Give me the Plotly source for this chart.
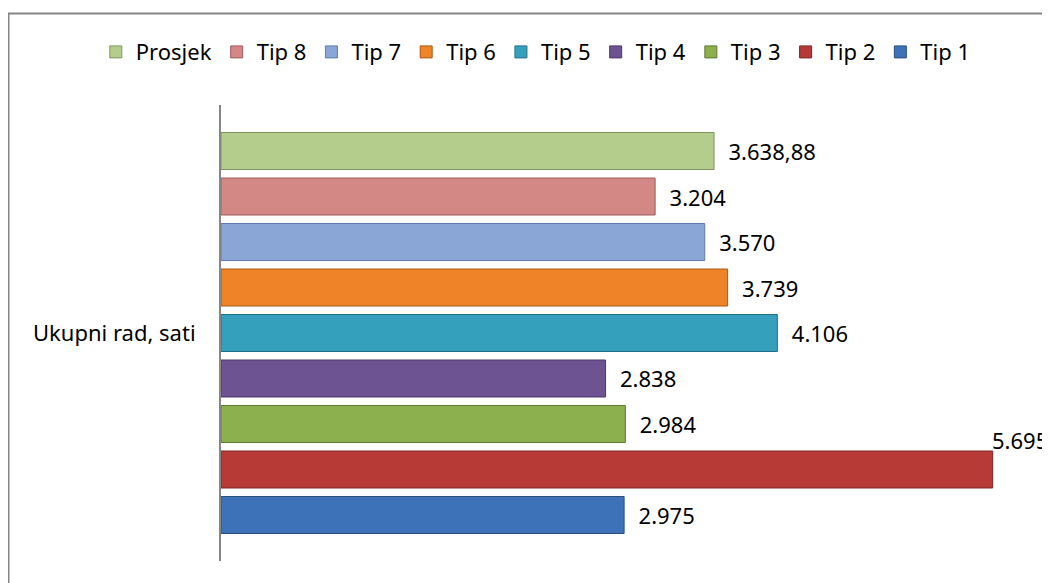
import plotly.graph_objects as go

category = ["Ukupni rad, sati"]
series_names = ["Tip 1", "Tip 2", "Tip 3", "Tip 4", "Tip 5", "Tip 6", "Tip 7", "Tip 8", "Prosjek"]
series_values = [2975, 5695, 2984, 2838, 4106, 3739, 3570, 3204, 3638.88]
series_colors = ["#3E72B8", "#B83A37", "#8DB04E", "#6E5392", "#35A0BC", "#EE8427", "#8AA6D6", "#D48886", "#B4CC8C"]
line_colors = ["#2A4F80", "#7E2624", "#5E7A33", "#4B3866", "#23708A", "#A85A18", "#5F7BA8", "#9A5E5C", "#7F9660"]
# label of the bar that runs to the edge is lifted above its bar, as in the source
lifted_label = "Tip 2"

def fmt(v):
    if float(v).is_integer():
        return f"{int(v):,}".replace(",", ".")
    return f"{v:,.2f}".replace(",", "X").replace(".", ",").replace("X", ".")

FONT = "Noto Sans"
FS = 22
fig = go.Figure()
annotations = []
for name, val, col, lc in zip(series_names, series_values, series_colors, line_colors):
    lifted = name == lifted_label
    fig.add_trace(go.Bar(
        name=name, y=category, x=[val], orientation="h",
        marker=dict(color=col, line=dict(color=lc, width=1)),
        text=[fmt(val)], texttemplate="  %{text}",
        textposition="none" if lifted else "outside",
        textfont=dict(family=FONT, size=FS, color="#000000"),
        cliponaxis=False,
    ))
    if lifted:
        annotations.append(dict(x=val, y=category[0], xref="x", yref="y", text=fmt(val),
                                showarrow=False, xanchor="left", yanchor="bottom",
                                xshift=-3, yshift=-124,
                                font=dict(family=FONT, size=FS, color="#000000")))

fig.update_layout(
    width=1042, height=575,
    margin=dict(l=213, r=16, t=97, b=22),
    paper_bgcolor="white", plot_bgcolor="white",
    barmode="group", bargap=0.102, bargroupgap=0.187,
    font=dict(family=FONT, size=FS, color="#000000"),
    showlegend=True,
    legend=dict(orientation="h", traceorder="reversed", x=-0.154, xanchor="left",
                y=1.116, yanchor="middle", font=dict(family=FONT, size=FS),
                itemwidth=30),
    xaxis=dict(range=[0, 6000], visible=False, showgrid=False, zeroline=False),
    yaxis=dict(showline=True, linecolor="#868686", linewidth=2, showgrid=False,
               ticks="", ticklabelstandoff=19, tickfont=dict(family=FONT, size=FS)),
    annotations=annotations,
    shapes=[dict(type="rect", xref="paper", yref="paper",
                 x0=(0.5 - 213) / 813, x1=1.05, y0=-0.1, y1=(553 - 5.5) / 456,
                 line=dict(color="#868686", width=2), fillcolor="rgba(0,0,0,0)", layer="below")],
)
fig.write_html("out.html")
